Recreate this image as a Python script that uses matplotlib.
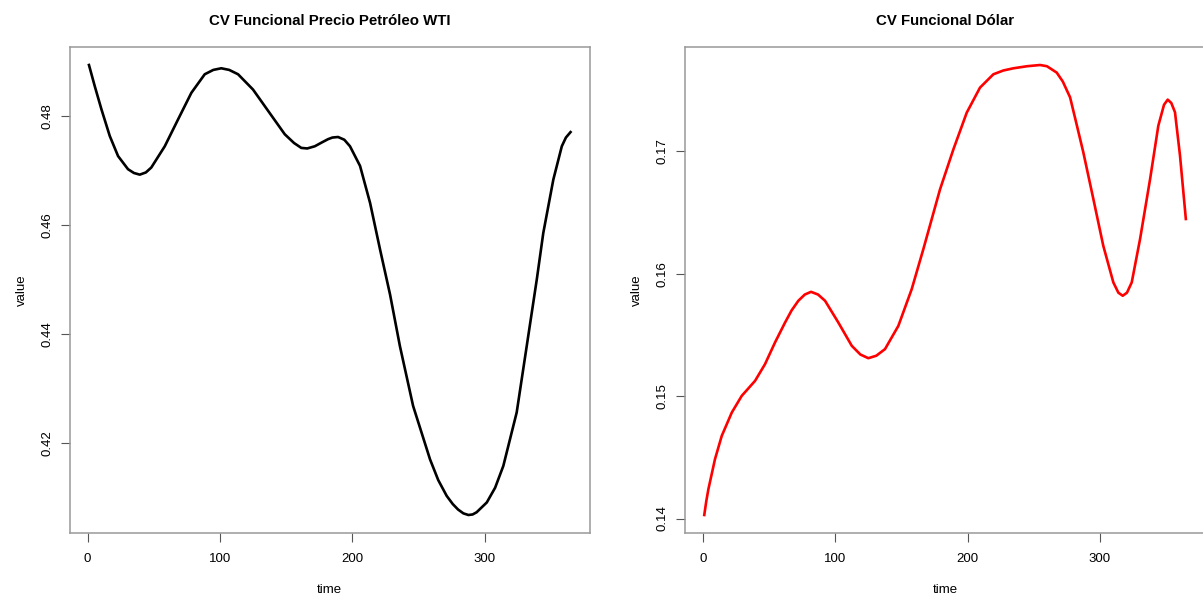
import matplotlib
matplotlib.use("Agg")
import matplotlib.pyplot as plt

plt.rcParams['font.family'] = ['Liberation Sans', 'DejaVu Sans']

t_wti = [1, 5.4, 10.4, 16.7, 23, 30.5, 35, 39.4, 44, 48.1, 58.3, 68.3, 78.4,
         88.5, 95, 101, 107, 113.7, 125, 136.4, 149, 156, 161.5, 166, 171.7,
         177, 181.7, 185, 189.3, 194, 198.3, 205.9, 213.5, 221, 228.6, 236,
         246, 258.8, 265, 271.4, 276, 280, 284, 287.8, 291, 294, 301.7, 308,
         314.2, 324.3, 331.9, 339.5, 344.4, 352, 358.4, 361.5, 365]
v_wti = [0.4893, 0.4854, 0.4812, 0.4763, 0.4726, 0.4702, 0.4695, 0.4692,
         0.4696, 0.4705, 0.4744, 0.4793, 0.4842, 0.4876, 0.4884, 0.4887,
         0.4884, 0.4876, 0.4848, 0.4809, 0.4766, 0.4750, 0.4741, 0.4740,
         0.4744, 0.4751, 0.4757, 0.4760, 0.4761, 0.4756, 0.4744, 0.4708,
         0.4640, 0.4555, 0.4472, 0.4378, 0.4268, 0.4170, 0.4132, 0.4103,
         0.4088, 0.4078, 0.4071, 0.4068, 0.4069, 0.4073, 0.4091, 0.4118,
         0.4158, 0.4256, 0.4378, 0.4500, 0.4585, 0.4683, 0.4744, 0.4760,
         0.4770]

t_usd = [1, 2.5, 4.1, 9.1, 14.2, 21.8, 29.3, 39.4, 46.9, 54.5, 62.1, 67,
         72.1, 77, 81.7, 87, 92.3, 102.3, 112.5, 119, 125, 131, 137.6,
         147.7, 157.8, 166.6, 179.2, 189.3, 199.4, 209.4, 219.5, 227, 234.6,
         245, 254.8, 260, 267.4, 272, 277.5, 282, 287.5, 295.1, 302.6, 310.2,
         314, 317.3, 320.5, 324.1, 330.4, 338, 344.2, 348.5, 351.3, 354,
         356.8, 360.6, 365]
v_usd = [0.14029, 0.14140, 0.14239, 0.14485, 0.14675, 0.14866, 0.15002,
         0.15125, 0.15261, 0.15439, 0.15602, 0.15700, 0.15779, 0.15830,
         0.15852, 0.15830, 0.15779, 0.15602, 0.15411, 0.15340, 0.15310,
         0.15330, 0.15384, 0.15574, 0.15874, 0.16201, 0.16689, 0.17016,
         0.17316, 0.17520, 0.17629, 0.17660, 0.17678, 0.17695, 0.17705,
         0.17695, 0.17643, 0.17570, 0.17441, 0.17240, 0.16992, 0.16610,
         0.16228, 0.15929, 0.15845, 0.15820, 0.15845, 0.15929, 0.16283,
         0.16774, 0.17209, 0.17380, 0.17422, 0.17395, 0.17319, 0.16964,
         0.16447]

x_ticks = [0, 100, 200, 300]
y_ticks_wti = [0.42, 0.44, 0.46, 0.48]
y_ticks_usd = [0.14, 0.15, 0.16, 0.17]

fig = plt.figure(figsize=(12.03, 5.96), dpi=100)
W, H = 1203, 596
ax1 = fig.add_axes([69.7 / W, 1 - 533 / H, 520.1 / W, 486 / H])
ax2 = fig.add_axes([685 / W, 1 - 533 / H, 520.1 / W, 486 / H])


def r_style(ax, t, v, color, title, yticks):
    ax.plot(t, v, color=color, lw=1.9, solid_joinstyle='round')
    rng = max(v) - min(v)
    ax.set_ylim(min(v) - 0.04 * rng, max(v) + 0.04 * rng)
    ax.set_xlim(1 - 0.04 * 364, 365 + 0.04 * 364)
    ax.set_xticks(x_ticks)
    ax.set_yticks(yticks)
    ax.set_yticklabels([f"{y:g}" for y in yticks], rotation=90, va='center')
    ax.tick_params(axis='x', length=6.2, pad=8, labelsize=9.5, color='#555555')
    ax.tick_params(axis='y', length=6.2, pad=5.5, labelsize=9.5, color='#555555')
    for s in ax.spines.values():
        s.set_color('#999999')
        s.set_linewidth(1.1)
    ax.set_title(title, fontsize=10.8, fontweight='bold', pad=16)
    ax.set_xlabel("time", fontsize=9.5, labelpad=14)
    ax.set_ylabel("value", fontsize=9.5, labelpad=10)


r_style(ax1, t_wti, v_wti, 'black', "CV Funcional Precio Petróleo WTI", y_ticks_wti)
r_style(ax2, t_usd, v_usd, 'red', "CV Funcional Dólar", y_ticks_usd)
ax2.spines['right'].set_visible(False)

fig.savefig("out.png", dpi=100)
